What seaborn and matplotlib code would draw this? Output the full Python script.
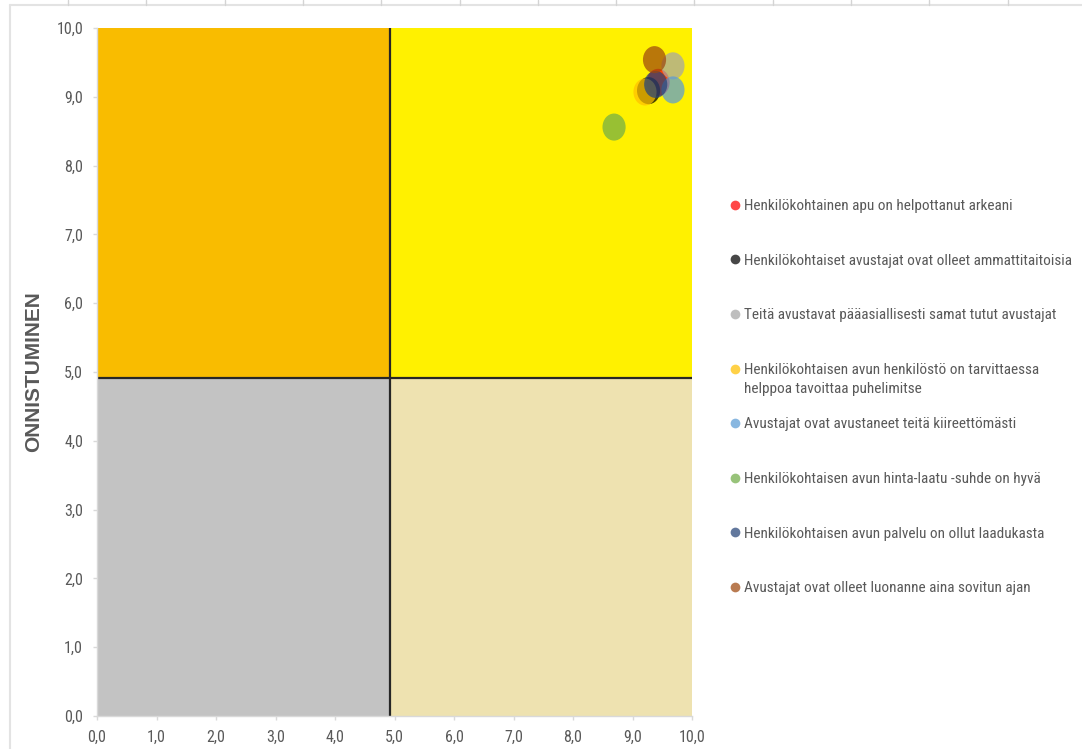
import matplotlib
matplotlib.use("Agg")
import matplotlib.pyplot as plt
import seaborn as sns
import pandas as pd
import numpy as np
from matplotlib.path import Path
from matplotlib.transforms import Affine2D
from matplotlib.patches import Rectangle
from matplotlib.lines import Line2D
from matplotlib.ticker import FuncFormatter, MultipleLocator
from matplotlib import font_manager as fm

# ---------------- data ----------------
labels = [
    "Henkilökohtainen apu on helpottanut arkeani",
    "Henkilökohtaiset avustajat ovat olleet ammattitaitoisia",
    "Teitä avustavat pääasiallisesti samat tutut avustajat",
    "Henkilökohtaisen avun henkilöstö on tarvittaessa",
    "Avustajat ovat avustaneet teitä kiireettömästi",
    "Henkilökohtaisen avun hinta-laatu -suhde on hyvä",
    "Henkilökohtaisen avun palvelu on ollut laadukasta",
    "Avustajat ovat olleet luonanne aina sovitun ajan",
]
label4_line2 = "helppoa tavoittaa puhelimitse"
x_values = [9.43, 9.27, 9.68, 9.21, 9.68, 8.69, 9.39, 9.37]
y_values = [9.21, 9.09, 9.45, 9.07, 9.10, 8.56, 9.18, 9.54]
colors = ["#FF0000", "#000000", "#A5A5A5", "#FFC000",
          "#5B9BD5", "#70AD47", "#264478", "#9E480E"]
x_divider = 4.93
y_divider = 4.91
y_title = "ONNISTUMINEN"

df = pd.DataFrame({"label": labels, "x": x_values, "y": y_values})

# ---------------- fonts ----------------
sns.set_style("white")
avail = {f.name for f in fm.fontManager.ttflist}
family = "DejaVu Sans"
for cand in ["Liberation Sans Narrow", "Roboto Condensed", "Roboto", "Lato"]:
    if cand in avail:
        family = cand
        break
plt.rcParams["font.family"] = [family, "DejaVu Sans"]
text_gray = "#595959"
spine_gray = "#D9D9D9"

W, H = 1082, 749
fig = plt.figure(figsize=(W / 100, H / 100), dpi=100)
renderer = fig.canvas.get_renderer()

# size the legend font so the longest entry is ~325 px wide, like the reference
probe = fig.text(0, 0, labels[1], fontsize=10, family=[family, "DejaVu Sans"])
w10 = probe.get_window_extent(renderer).width
probe.remove()
leg_size = min(11.0, 10 * 325 / w10)
tick_size = leg_size * 1.05
leg_px = leg_size * 100 / 72

ax = fig.add_axes([97 / W, 1 - 716 / H, (692 - 97) / W, (716 - 28) / H])

# quadrant backgrounds
ax.add_patch(Rectangle((0, y_divider), x_divider, 10 - y_divider, color="#F9BC00", lw=0, zorder=0))
ax.add_patch(Rectangle((x_divider, y_divider), 10 - x_divider, 10 - y_divider, color="#FFF100", lw=0, zorder=0))
ax.add_patch(Rectangle((0, 0), x_divider, y_divider, color="#C3C3C3", lw=0, zorder=0))
ax.add_patch(Rectangle((x_divider, 0), 10 - x_divider, y_divider, color="#EEE2B0", lw=0, zorder=0))
ax.axvline(x_divider, color="#262626", lw=1.6, zorder=1)
ax.axhline(y_divider, color="#262626", lw=1.6, zorder=1)

# elliptical marker
ell = Path.unit_circle().transformed(Affine2D().scale(1.0, 1.17))
sns.scatterplot(data=df, x="x", y="y", hue="label", palette=dict(zip(labels, colors)),
                hue_order=labels, marker=ell, s=380, alpha=0.72, linewidth=0,
                edgecolor="none", legend=False, ax=ax, zorder=3)

ax.set_xlim(0, 10)
ax.set_ylim(0, 10)
ax.xaxis.set_major_locator(MultipleLocator(1))
ax.yaxis.set_major_locator(MultipleLocator(1))
fmt = FuncFormatter(lambda v, p: f"{v:.1f}".replace(".", ","))
ax.xaxis.set_major_formatter(fmt)
ax.yaxis.set_major_formatter(fmt)
ax.tick_params(axis="both", which="major", length=3, width=1, color=spine_gray,
               labelcolor=text_gray, labelsize=tick_size, direction="out", pad=7)
ax.tick_params(left=True, bottom=True)
for s in ["top", "right"]:
    ax.spines[s].set_visible(False)
for s in ["left", "bottom"]:
    ax.spines[s].set_color(spine_gray)
    ax.spines[s].set_linewidth(1)
ax.set_xlabel("")
ax.set_ylabel(y_title, fontsize=15, fontweight="bold", color=text_gray,
              family=["Liberation Sans", "DejaVu Sans"])
ax.yaxis.set_label_coords((43 - 97) / 595, 0.5)

# legend
handles = [Line2D([], [], ls="none", marker="o", markersize=7, markeredgewidth=0,
                  markerfacecolor=c, alpha=0.72) for c in colors]
leg = fig.legend(handles, labels, loc="upper left", bbox_to_anchor=(730 / W, 1 - 199 / H),
                 frameon=False, fontsize=leg_size, labelcolor=text_gray, handlelength=0.6,
                 handletextpad=0.3, labelspacing=2.75 - 1.2 / leg_px,
                 borderpad=0, borderaxespad=0)

# outer chart frame and spreadsheet grid
fig.add_artist(Line2D([10 / W, 10 / W], [0, 1 - 5 / H], color="#E3E3E3", lw=1.5))
fig.add_artist(Line2D([10 / W, 1], [1 - 5 / H, 1 - 5 / H], color="#E3E3E3", lw=1.5))
for gx in np.arange(68, W, 78.3):
    fig.add_artist(Line2D([gx / W, gx / W], [1 - 5 / H, 1], color="#D4D4D4", lw=1))

fig.canvas.draw()
bb = leg.get_texts()[3].get_window_extent()
fig.text(bb.x0 / W, (bb.y0 - 19) / H, label4_line2, fontsize=leg_size, color=text_gray,
         ha="left", va="bottom")

fig.savefig("out.png", dpi=100)
